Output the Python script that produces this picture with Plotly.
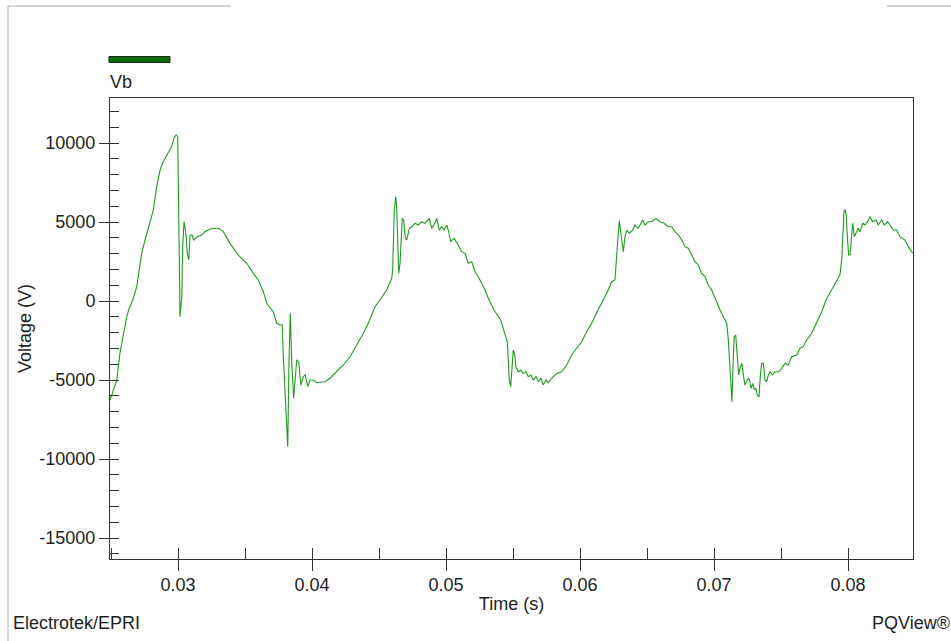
import plotly.graph_objects as go

# Phase B voltage waveform (time in seconds, voltage in volts)
time_s = [
    0.02493, 0.02543, 0.02567, 0.02587, 0.02617, 0.02634, 0.02662, 0.02692, 0.02729, 0.02754,
    0.02791, 0.02816, 0.02841, 0.02866, 0.02890, 0.02928, 0.02953, 0.02970, 0.02985, 0.02998,
    0.03002, 0.03007, 0.03015, 0.03028, 0.03035, 0.03045, 0.03060, 0.03069, 0.03080, 0.03090,
    0.03104, 0.03119, 0.03144, 0.03177, 0.03201, 0.03251, 0.03301, 0.03338, 0.03388, 0.03450,
    0.03513, 0.03562, 0.03599, 0.03637, 0.03662, 0.03711, 0.03737, 0.03761, 0.03778, 0.03786,
    0.03799, 0.03811, 0.03819, 0.03828, 0.03838, 0.03849, 0.03863, 0.03886, 0.03901, 0.03916,
    0.03935, 0.03950, 0.03968, 0.03985, 0.04005, 0.04035, 0.04097, 0.04134, 0.04184, 0.04234,
    0.04284, 0.04334, 0.04383, 0.04420, 0.04470, 0.04507, 0.04557, 0.04595, 0.04602, 0.04607,
    0.04614, 0.04625, 0.04632, 0.04640, 0.04647, 0.04657, 0.04664, 0.04674, 0.04684, 0.04696,
    0.04707, 0.04726, 0.04744, 0.04769, 0.04793, 0.04819, 0.04843, 0.04875, 0.04893, 0.04910,
    0.04931, 0.04950, 0.04968, 0.04985, 0.05005, 0.05020, 0.05035, 0.05060, 0.05084, 0.05117,
    0.05142, 0.05166, 0.05192, 0.05216, 0.05241, 0.05266, 0.05291, 0.05316, 0.05358, 0.05408,
    0.05440, 0.05457, 0.05465, 0.05472, 0.05483, 0.05493, 0.05502, 0.05513, 0.05522, 0.05540,
    0.05557, 0.05577, 0.05597, 0.05614, 0.05634, 0.05651, 0.05672, 0.05689, 0.05707, 0.05726,
    0.05746, 0.05763, 0.05789, 0.05826, 0.05863, 0.05901, 0.05938, 0.05975, 0.06013, 0.06050,
    0.06087, 0.06127, 0.06174, 0.06211, 0.06237, 0.06261, 0.06274, 0.06286, 0.06293, 0.06304,
    0.06316, 0.06323, 0.06336, 0.06349, 0.06368, 0.06393, 0.06410, 0.06435, 0.06468, 0.06485,
    0.06510, 0.06535, 0.06567, 0.06597, 0.06627, 0.06659, 0.06684, 0.06709, 0.06734, 0.06759,
    0.06784, 0.06808, 0.06834, 0.06858, 0.06883, 0.06908, 0.06933, 0.06957, 0.06983, 0.07007,
    0.07045, 0.07069, 0.07095, 0.07107, 0.07114, 0.07125, 0.07134, 0.07144, 0.07151, 0.07162,
    0.07172, 0.07184, 0.07194, 0.07207, 0.07219, 0.07231, 0.07249, 0.07263, 0.07276, 0.07289,
    0.07301, 0.07313, 0.07323, 0.07336, 0.07346, 0.07356, 0.07368, 0.07381, 0.07393, 0.07405,
    0.07418, 0.07438, 0.07455, 0.07480, 0.07505, 0.07530, 0.07554, 0.07580, 0.07617, 0.07642,
    0.07666, 0.07692, 0.07729, 0.07766, 0.07804, 0.07836, 0.07886, 0.07916, 0.07940, 0.07953,
    0.07960, 0.07970, 0.07978, 0.07987, 0.07995, 0.08005, 0.08015, 0.08028, 0.08035, 0.08047,
    0.08060, 0.08077, 0.08090, 0.08110, 0.08127, 0.08147, 0.08164, 0.08184, 0.08209, 0.08226,
    0.08251, 0.08271, 0.08296, 0.08313, 0.08338, 0.08363, 0.08388, 0.08425, 0.08450, 0.08483,
]

vb_volts = [
    -6270, -5000, -3290, -2340, -1010, -510, 60, 900, 3020, 3860,
    4940, 5760, 7230, 8290, 8820, 9350, 9770, 10300, 10510, 10400,
    7980, 2400, -990, 270, 3440, 5020, 4180, 3020, 2600, 4180,
    4180, 3860, 4070, 4180, 4390, 4600, 4600, 4390, 3650, 2910,
    2390, 1750, 1330, 590, -150, -680, -1410, -1520, -1520, -3530,
    -5950, -8590, -9220, -3920, -780, -3920, -6160, -3730, -3840, -5320,
    -4790, -4680, -5420, -5000, -5000, -5170, -5110, -4890, -4480, -4050,
    -3530, -2790, -2040, -1410, -360, 60, 700, 1440, 1960, 3540,
    5760, 6600, 5970, 3650, 1750, 2390, 3860, 5230, 5130, 3970,
    3860, 4600, 4700, 4920, 4810, 5020, 4920, 5230, 4600, 4810,
    5230, 4490, 4700, 4490, 4810, 4390, 3750, 3970, 3650, 3120,
    3020, 2390, 2490, 1850, 1540, 1120, 700, 170, -570, -1200,
    -2040, -2580, -3730, -5000, -5420, -3940, -3100, -3420, -4160, -4480,
    -4370, -4580, -4480, -4790, -4680, -5000, -4790, -5110, -4890, -5320,
    -5000, -5170, -4890, -4580, -4480, -4050, -3420, -2990, -2580, -1940,
    -1410, -700, 60, 700, 1220, 1330, 2910, 4290, 5080, 4390,
    3650, 3120, 4070, 4490, 4290, 4490, 4810, 4600, 5130, 4810,
    5020, 5020, 5230, 5020, 4920, 4700, 4700, 4390, 4180, 3860,
    3440, 3340, 2910, 2490, 2280, 1750, 1540, 1010, 700, 170,
    -570, -990, -1410, -2470, -3530, -4790, -6370, -3630, -2260, -2150,
    -3530, -4680, -4260, -3940, -4680, -5320, -5000, -4890, -5530, -5210,
    -5630, -5530, -5950, -6060, -4680, -3940, -3940, -5000, -5110, -4680,
    -4480, -4680, -4480, -4480, -4260, -3940, -4050, -3530, -3420, -2990,
    -2890, -2470, -2040, -1410, -680, 60, 800, 1330, 1650, 2600,
    4070, 5650, 5800, 5440, 4070, 2910, 2910, 4290, 4920, 4070,
    4290, 4600, 4390, 4920, 4810, 5020, 5340, 5020, 5130, 4810,
    5130, 4810, 5020, 4810, 4490, 4490, 4070, 3860, 3440, 3020,
]

x_tick_vals = [0.03, 0.04, 0.05, 0.06, 0.07, 0.08]
x_tick_text = ["0.03", "0.04", "0.05", "0.06", "0.07", "0.08"]
y_tick_vals = [-15000, -10000, -5000, 0, 5000, 10000]
y_tick_text = ["-15000", "-10000", "-5000", "0", "5000", "10000"]

X_RANGE = [0.024925, 0.084851]
Y_RANGE = [-16329, 12848]

FONT = "Liberation Sans, Arial, sans-serif"
AXIS_COLOR = "#333333"
TEXT_COLOR = "#1e1e1e"
TRACE_COLOR = "#1f9a1f"

fig = go.Figure()

fig.add_trace(go.Scatter(
    x=time_s, y=vb_volts, mode="lines", name="Vb",
    line=dict(color=TRACE_COLOR, width=1.1),
    showlegend=False,
))

# empty trace that carries the overlay axes used for the inner half of major ticks
fig.add_trace(go.Scatter(x=[None], y=[None], xaxis="x2", yaxis="y2",
                         showlegend=False, hoverinfo="skip"))

fig.update_layout(
    width=951, height=641,
    margin=dict(l=110, r=38, t=98, b=82),
    paper_bgcolor="white", plot_bgcolor="white",
    font=dict(family=FONT, size=18, color=TEXT_COLOR),
    xaxis=dict(
        range=X_RANGE, showgrid=False, zeroline=False,
        showline=True, linecolor=AXIS_COLOR, linewidth=1, mirror=True,
        tickmode="array", tickvals=x_tick_vals, ticktext=x_tick_text,
        ticks="outside", ticklen=11, tickwidth=1, tickcolor=AXIS_COLOR,
        ticklabelstandoff=-2,
        tickfont=dict(family=FONT, size=18, color=TEXT_COLOR),
        minor=dict(tickmode="linear", tick0=0, dtick=0.005, ticks="inside",
                   ticklen=11, tickwidth=1, tickcolor=AXIS_COLOR, showgrid=False),
        title=dict(text="Time (s)", font=dict(family=FONT, size=18, color=TEXT_COLOR),
                   standoff=3),
    ),
    yaxis=dict(
        range=Y_RANGE, showgrid=False, zeroline=False,
        showline=True, linecolor=AXIS_COLOR, linewidth=1, mirror=True,
        tickmode="array", tickvals=y_tick_vals, ticktext=y_tick_text,
        ticks="outside", ticklen=10, tickwidth=1, tickcolor=AXIS_COLOR,
        tickfont=dict(family=FONT, size=18, color=TEXT_COLOR),
        minor=dict(tickmode="linear", tick0=0, dtick=1000, ticks="inside",
                   ticklen=9, tickwidth=1, tickcolor=AXIS_COLOR, showgrid=False),
        title=dict(text="Voltage (V)", font=dict(family=FONT, size=18, color=TEXT_COLOR),
                   standoff=3),
    ),
    xaxis2=dict(
        overlaying="x", anchor="y2", side="bottom", range=X_RANGE,
        tickmode="array", tickvals=x_tick_vals, ticks="inside", ticklen=11,
        tickwidth=1, tickcolor=AXIS_COLOR, showticklabels=False,
        showline=False, showgrid=False, zeroline=False,
    ),
    yaxis2=dict(
        overlaying="y", anchor="x2", side="left", range=Y_RANGE,
        tickmode="array", tickvals=y_tick_vals, ticks="inside", ticklen=9,
        tickwidth=1, tickcolor=AXIS_COLOR, showticklabels=False,
        showline=False, showgrid=False, zeroline=False,
    ),
)

# helpers to convert page pixels into paper coordinates
PL, PR, PT, PB = 110, 913, 98, 559


def px(xp):
    return (xp - PL) / (PR - PL)


def py(yp):
    return (PB - yp) / (PB - PT)


# light frame around the chart window
frame = dict(type="line", xref="paper", yref="paper",
             line=dict(color="#c8c8c8", width=1.5))
fig.add_shape(**frame, x0=px(8), x1=px(231), y0=py(6), y1=py(6))
fig.add_shape(**frame, x0=px(887), x1=px(951), y0=py(6), y1=py(6))
fig.add_shape(**frame, x0=px(8), x1=px(8), y0=py(6), y1=py(641))

# legend swatch and series name
fig.add_shape(type="rect", xref="paper", yref="paper",
              x0=px(109), x1=px(170), y0=py(62.5), y1=py(56.5),
              fillcolor="#0a6e0a", line=dict(color="#1a2a1a", width=1))
fig.add_annotation(text="Vb", xref="paper", yref="paper",
                   x=px(108), y=py(82), xanchor="left", yanchor="middle",
                   showarrow=False, font=dict(family=FONT, size=18, color=TEXT_COLOR))

# footer credits
fig.add_annotation(text="Electrotek/EPRI", xref="paper", yref="paper",
                   x=px(11), y=py(623), xanchor="left", yanchor="middle",
                   showarrow=False, font=dict(family=FONT, size=18, color=TEXT_COLOR))
fig.add_annotation(text="PQView®", xref="paper", yref="paper",
                   x=px(952), y=py(623), xanchor="right", yanchor="middle",
                   showarrow=False, font=dict(family=FONT, size=18, color=TEXT_COLOR))

fig.write_html("out.html")
